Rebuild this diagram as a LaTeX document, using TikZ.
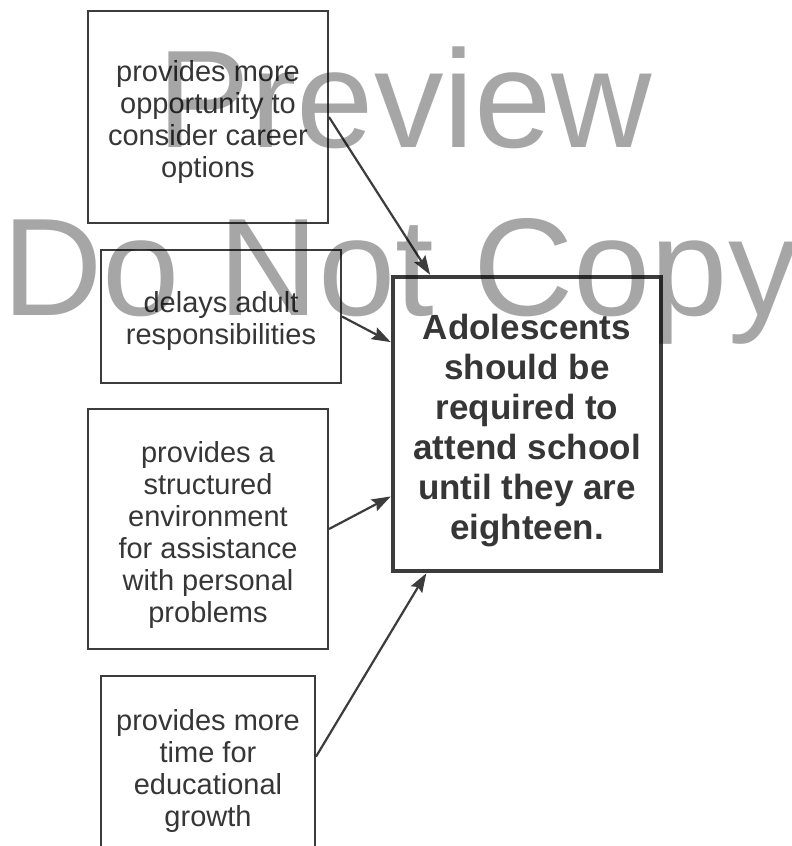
\documentclass[tikz,border=0pt]{standalone}
\usepackage{fontspec}
\setmainfont{Liberation Sans}
\usetikzlibrary{arrows.meta}
\definecolor{ink}{HTML}{363636}
\definecolor{edge}{HTML}{3C3C3C}
\tikzset{
  reasonbox/.style={draw=edge, line width=2pt, inner sep=0pt},
  claimbox/.style={draw=edge, line width=4.5pt, inner sep=0pt},
  reasontext/.style={text=ink, align=center, inner sep=0pt,
    font=\fontsize{29pt}{32pt}\selectfont},
  claimtext/.style={text=ink, align=center, inner sep=0pt,
    font=\bfseries\fontsize{35pt}{40pt}\selectfont},
  support/.style={draw=edge, line width=2.2pt,
    -{Stealth[length=19pt,width=13pt,inset=3pt]}},
  stamp/.style={text=black, opacity=0.35, inner sep=0pt,
    font=\fontsize{139pt}{139pt}\selectfont, anchor=base}
}
\begin{document}
\begin{tikzpicture}[x=1pt,y=-1pt]
  \useasboundingbox (0,0) rectangle (792,846);

  % claim
  \node[claimbox, minimum width=268pt, minimum height=294pt] (main) at (527,424) {};
  \node[claimtext] (tmain) at ([yshift=-7pt]main.center)
    {Adolescents\\should be\\required to\\attend school\\until they are\\eighteen.};

  % reasons
  \node[reasonbox, minimum width=240pt, minimum height=212pt] (b1) at (208,117) {};
  \node[reasontext] (t1) at ([yshift=-5pt]b1.center)
    {provides more\\opportunity to\\consider career\\options};
  \node[reasonbox, minimum width=240pt, minimum height=133pt] (b2) at (221,316.5) {};
  \node[reasontext] (t2) at ([yshift=-4pt]b2.center)
    {delays adult\\responsibilities};
  \node[reasonbox, minimum width=240pt, minimum height=240pt] (b3) at (208,529) {};
  \node[reasontext] (t3) at ([yshift=-6pt]b3.center)
    {provides a\\structured\\environment\\for assistance\\with personal\\problems};
  \node[reasonbox, minimum width=214pt, minimum height=184pt] (b4) at (208,768) {};
  \node[reasontext] (t4) at ([yshift=-3pt]b4.center)
    {provides more\\time for\\educational\\growth};

  % connectors
  \draw[support] (b1.east) -- (main.123);
  \draw[support] (b2.east) -- (main.149);
  \draw[support] (b3.east) -- (main.208);
  \draw[support] (b4.6) -- (main.236);

  % overlay stamp
  \node[stamp] (wm1) at (405,147) {Preview};
  \node[stamp] (wm2) at (400,315) {Do Not Copy};
\end{tikzpicture}
\end{document}
